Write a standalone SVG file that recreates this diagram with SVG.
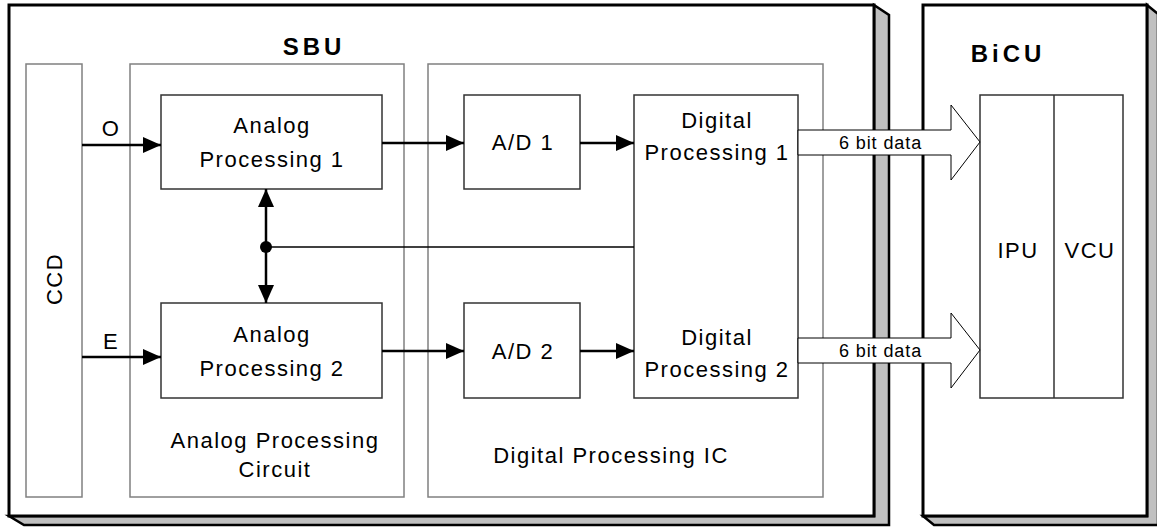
<svg xmlns="http://www.w3.org/2000/svg" width="1157" height="527" viewBox="0 0 1157 527">
<style>
text{font-family:"Liberation Sans",Arial,sans-serif;fill:#000;font-size:22px;letter-spacing:1.5px}
.t{text-anchor:middle}
.h{font-weight:bold;font-size:24px;letter-spacing:4px}
.s{font-size:18px;letter-spacing:0.9px}
.outer{fill:#fff;stroke:#000;stroke-width:3}
.shadow{fill:#c0c0c0;stroke:#000;stroke-width:2.5;stroke-linejoin:miter}
.grp{fill:#fff;stroke:#808080;stroke-width:1.5}
.box{fill:#fff;stroke:#333;stroke-width:1.5}
.ln{fill:none;stroke:#000;stroke-width:2.5}
.thin{fill:none;stroke:#000;stroke-width:1.5}
.blk{fill:#fff;stroke:#000;stroke-width:1}
</style>
<defs>
<marker id="ah" viewBox="0 0 18 16" refX="18" refY="8" markerWidth="18" markerHeight="16" markerUnits="userSpaceOnUse" orient="auto">
<path d="M0,0 L18,8 L0,16 z" fill="#000"/>
</marker>
</defs>

<g id="SBU">
<polygon class="shadow" points="874,5 889,15 889,525 24,525 9,516 874,516"/>
<rect class="outer" x="9" y="5" width="865" height="511"/>
<text class="h t" x="314" y="55">SBU</text>
</g>

<g id="BiCU">
<polygon class="shadow" points="1147,5 1158,14 1158,525 934,525 923,516 1147,516"/>
<rect class="outer" x="923" y="5" width="224" height="511"/>
<text class="h t" x="1008" y="62">BiCU</text>
</g>

<g id="CCD">
<rect class="grp" x="26" y="64" width="56" height="433"/>
<text class="t" transform="translate(62,279) rotate(-90)">CCD</text>
</g>

<g id="AnalogCircuit">
<rect class="grp" x="130" y="64" width="274" height="433"/>
<text class="t" x="275" y="448">Analog Processing</text>
<text class="t" x="275" y="477">Circuit</text>
</g>

<g id="DigitalIC">
<rect class="grp" x="428" y="64" width="395" height="433"/>
<text class="t" x="611" y="463">Digital Processing IC</text>
</g>

<g id="AP1">
<rect class="box" x="161" y="95" width="221" height="94"/>
<text class="t" x="272" y="133">Analog</text>
<text class="t" x="272" y="167">Processing 1</text>
</g>

<g id="AP2">
<rect class="box" x="161" y="303" width="221" height="95"/>
<text class="t" x="272" y="342">Analog</text>
<text class="t" x="272" y="376">Processing 2</text>
</g>

<g id="AD1">
<rect class="box" x="464" y="95" width="116" height="94"/>
<text class="t" x="523" y="150">A/D 1</text>
</g>

<g id="AD2">
<rect class="box" x="464" y="303" width="116" height="95"/>
<text class="t" x="523" y="359">A/D 2</text>
</g>

<g id="DP">
<rect class="box" x="634" y="95" width="164" height="303"/>
<text class="t" x="717" y="128">Digital</text>
<text class="t" x="717" y="160">Processing 1</text>
<text class="t" x="717" y="345">Digital</text>
<text class="t" x="717" y="377">Processing 2</text>
</g>

<g id="IPUVCU">
<rect class="box" x="980" y="95" width="143" height="303"/>
<line class="box" x1="1054" y1="95" x2="1054" y2="398"/>
<text class="t" x="1018" y="258">IPU</text>
<text class="t" x="1090" y="258">VCU</text>
</g>

<g id="connectors">
<line class="ln" x1="82" y1="145" x2="161" y2="145" marker-end="url(#ah)"/>
<line class="ln" x1="82" y1="357" x2="161" y2="357" marker-end="url(#ah)"/>
<line class="ln" x1="382" y1="143" x2="464" y2="143" marker-end="url(#ah)"/>
<line class="ln" x1="580" y1="143" x2="634" y2="143" marker-end="url(#ah)"/>
<line class="ln" x1="382" y1="351" x2="464" y2="351" marker-end="url(#ah)"/>
<line class="ln" x1="580" y1="351" x2="634" y2="351" marker-end="url(#ah)"/>
<line class="ln" x1="266" y1="247" x2="266" y2="189" marker-end="url(#ah)"/>
<line class="ln" x1="266" y1="247" x2="266" y2="303" marker-end="url(#ah)"/>
<line class="thin" x1="266" y1="247" x2="634" y2="247"/>
<circle cx="266" cy="247" r="6" fill="#000"/>
<text class="t" x="111" y="136">O</text>
<text class="t" x="111" y="349">E</text>
<polygon class="blk" points="798,130 951,130 951,105 980,142 951,180 951,155 798,155"/>
<polygon class="blk" points="798,338 951,338 951,313 980,350 951,388 951,363 798,363"/>
<text class="s" x="839" y="149">6 bit data</text>
<text class="s" x="839" y="357">6 bit data</text>
</g>
</svg>
